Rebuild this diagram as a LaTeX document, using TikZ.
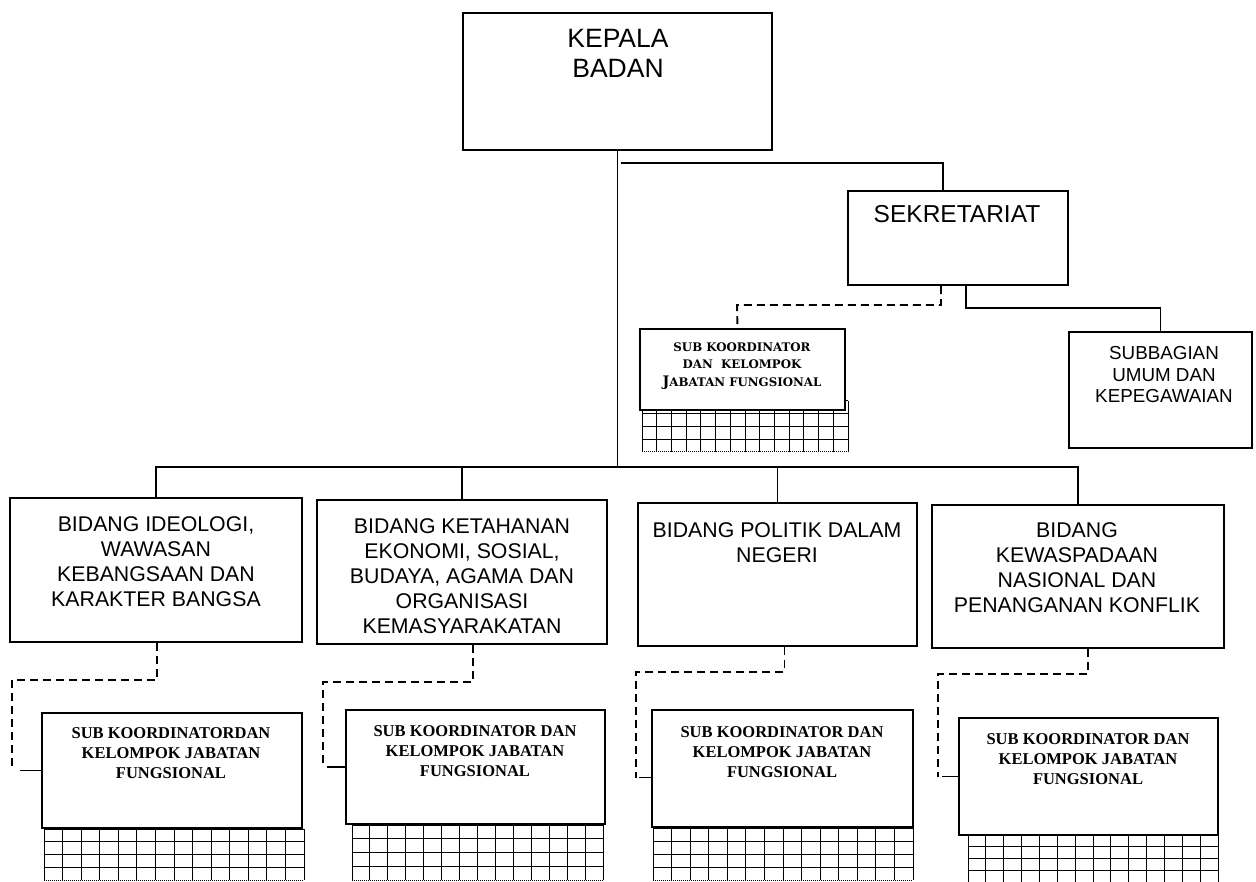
\documentclass[tikz,border=0pt]{standalone}
\usepackage{fontspec}
\setmainfont{Liberation Sans}
\newfontfamily\subfont{Liberation Serif}
\newfontfamily\smallsubfont{DejaVu Serif}
\usetikzlibrary{calc}
\tikzset{
  box/.style={draw, line width=2.1pt, fill=white, inner sep=0pt},
  conn/.style={line width=1.9pt},
  dconn/.style={line width=1.9pt, dash pattern=on 8pt off 5pt},
  gridline/.style={line width=1pt},
  txt/.style={align=center, inner sep=0pt},
  bigtxt/.style={txt, font=\fontsize{26.5}{30}\selectfont},
  bidtxt/.style={txt, font=\fontsize{21.3}{25}\selectfont},
  subtxt/.style={txt, font=\subfont\bfseries\fontsize{16.5}{20}\selectfont},
}
\newcommand\mygrid[4]{%
  \foreach \i in {0,...,14} \draw[gridline] ({#1+(#3-#1)*\i/14},#2) -- ({#1+(#3-#1)*\i/14},#4);
  \foreach \j in {0,...,3} \draw[gridline] (#1,{#2+(#4-#2)*\j/4}) -- (#3,{#2+(#4-#2)*\j/4});
  \draw[gridline, densely dotted] (#1,#4) -- (#3,#4);
}
\begin{document}
\begin{tikzpicture}[x=1pt, y=-1pt]
\useasboundingbox (0,0) rectangle (1256,882);

% grids (behind boxes)
\mygrid{642}{401}{848}{452}
\mygrid{44}{829}{304}{880}
\mygrid{352}{825}{603}{880}
\mygrid{653}{828}{913}{880}
\mygrid{968}{835}{1218}{882}

% boxes
\node[box, minimum width=309pt, minimum height=137pt] (kepala) at (617.5,81.5) {};
\node[box, minimum width=220pt, minimum height=94pt] (sek) at (958,238) {};
\node[box, minimum width=205pt, minimum height=81pt] (subs) at (742.5,369.5) {};
\node[box, minimum width=183pt, minimum height=116pt] (subbag) at (1160.5,390) {};
\node[box, minimum width=292pt, minimum height=144pt] (bid1) at (156,570) {};
\node[box, minimum width=290pt, minimum height=144pt] (bid2) at (462,572) {};
\node[box, minimum width=279pt, minimum height=143pt] (bid3) at (777.5,574.5) {};
\node[box, minimum width=292pt, minimum height=143pt] (bid4) at (1078,576.5) {};
\node[box, minimum width=260pt, minimum height=115pt] (sub1) at (172,770.5) {};
\node[box, minimum width=259pt, minimum height=114pt] (sub2) at (475.5,767) {};
\node[box, minimum width=261pt, minimum height=117pt] (sub3) at (782.5,768.5) {};
\node[box, minimum width=259pt, minimum height=117pt] (sub4) at (1088.5,776.5) {};

% texts
\node[bigtxt] (kepala-t) at (618,53.5) {KEPALA\\BADAN};
\node[txt, font=\fontsize{24.5}{30}\selectfont] (sek-t) at (957,214) {SEKRETARIAT};
\node[txt, font=\fontsize{18.8}{21.5}\selectfont] (subbag-t) at (1164,375) {SUBBAGIAN\\UMUM DAN\\KEPEGAWAIAN};
\node[txt, font=\smallsubfont\bfseries\fontsize{11.8}{17.5}\selectfont] (subs-t) at (742,366)
  {SUB KOORDINATOR\\DAN\ \ KELOMPOK\\{\fontsize{14.5}{17.5}\selectfont J}ABATAN FUNGSIONAL};
\node[bidtxt] (bid1-t) at (156,561.5) {BIDANG IDEOLOGI,\\WAWASAN\\KEBANGSAAN DAN\\KARAKTER BANGSA};
\node[bidtxt] (bid2-t) at (462,576) {BIDANG KETAHANAN\\EKONOMI, SOSIAL,\\BUDAYA, AGAMA DAN\\ORGANISASI\\KEMASYARAKATAN};
\node[bidtxt] (bid3-t) at (777,543) {BIDANG POLITIK DALAM\\NEGERI};
\node[bidtxt] (bid4-t) at (1077,568) {BIDANG\\KEWASPADAAN\\NASIONAL DAN\\PENANGANAN KONFLIK};
\node[subtxt] (sub1-t) at (171,753) {SUB KOORDINATORDAN\\KELOMPOK JABATAN\\FUNGSIONAL};
\node[subtxt] (sub2-t) at (475,751) {SUB KOORDINATOR DAN\\KELOMPOK JABATAN\\FUNGSIONAL};
\node[subtxt] (sub3-t) at (782,752) {SUB KOORDINATOR DAN\\KELOMPOK JABATAN\\FUNGSIONAL};
\node[subtxt] (sub4-t) at (1088,759) {SUB KOORDINATOR DAN\\KELOMPOK JABATAN\\FUNGSIONAL};

% solid connectors
\coordinate (bus) at (0,467);
\coordinate (br) at (0,163);
\draw[conn] (kepala.south) -- (kepala.south |- bus);
\draw[conn] ([xshift=3pt]kepala.south |- br) -| ([xshift=-15pt]sek.north);
\draw[conn] (bid1.north) |- (bus -| bid4.north) -- (bid4.north);
\draw[conn] (bid2.north) -- (bid2.north |- bus);
\draw[conn] (bid3.north) -- (bid3.north |- bus);
\coordinate (sb) at (0,308);
\draw[conn] ([xshift=8pt]sek.south) |- (sb -| subbag.north) -- (subbag.north);

% dashed connectors
\draw[dconn] ([xshift=-17pt]sek.south) |- (737,305) -- ([xshift=-5pt]subs.north);
\coordinate (d1) at (12,680);
\draw[dconn] ([xshift=1pt]bid1.south) |- (d1) -- (d1 |- sub1.west);
\draw[conn] ([xshift=8pt]d1 |- sub1.west) -- (sub1.west);
\coordinate (d2) at (323,682);
\draw[dconn] ([xshift=11pt]bid2.south) |- (d2) -- (d2 |- sub2.west);
\draw[conn] ([xshift=4pt]d2 |- sub2.west) -- (sub2.west);
\coordinate (d3) at (636,672);
\draw[dconn] ([xshift=7pt]bid3.south) |- (d3) -- ([yshift=-9pt]d3 |- sub3.west);
\draw[conn] ([xshift=3pt,yshift=-9pt]d3 |- sub3.west) -- ([yshift=-9pt]sub3.west);
\coordinate (d4) at (938,674);
\draw[dconn] ([xshift=10pt]bid4.south) |- (d4) -- (d4 |- sub4.west);
\draw[conn] ([xshift=4pt]d4 |- sub4.west) -- (sub4.west);
\end{tikzpicture}
\end{document}
